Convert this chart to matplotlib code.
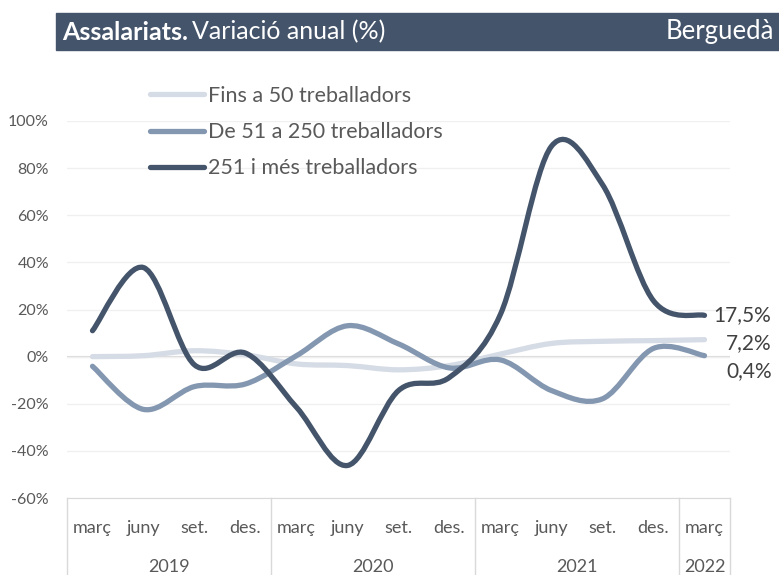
import numpy as np
import matplotlib.pyplot as plt
from matplotlib.path import Path
from matplotlib.patches import PathPatch, Rectangle
from matplotlib.lines import Line2D

plt.rcParams['font.family'] = ['Lato', 'DejaVu Sans']

# data (annual change, %)
quarters = ['març', 'juny', 'set.', 'des.'] * 3 + ['març']
years = ['2019', '2020', '2021', '2022']
year_bounds = [-0.5, 3.5, 7.5, 11.5, 12.5]
series_names = ['Fins a 50 treballadors', 'De 51 a 250 treballadors',
                '251 i més treballadors']
fins50 = [0.0, 0.4, 2.5, 0.8, -3.1, -3.8, -5.6, -3.8, 1.1, 5.6, 6.5, 6.8, 7.2]
de51 = [-4.1, -22.4, -12.7, -11.6, 0.4, 13.1, 5.4, -4.8, -1.4, -14.4, -17.9, 3.5, 0.4]
mes251 = [11.0, 37.8, -3.5, 1.5, -21.5, -46.2, -14.4, -8.8, 18.0, 89.3, 73.0, 23.7, 17.5]
end_labels = ['7,2%', '0,4%', '17,5%']

colors = ['#D6DCE5', '#8497B0', '#44546A']
label_dy = [-3, -15, 0]   # pixel nudges for end labels
grey = '#595959'


def smooth_path(xs, ys):
    # excel-style smoothed line: bezier through the points
    p = np.column_stack([xs, ys]).astype(float)
    n = len(p)
    verts = [p[0]]
    codes = [Path.MOVETO]
    for i in range(n - 1):
        p0 = p[i - 1] if i > 0 else p[i]
        p3 = p[i + 2] if i + 2 < n else p[i + 1]
        c1 = p[i] + (p[i + 1] - p0) / 6
        c2 = p[i + 1] - (p3 - p[i]) / 6
        verts += [c1, c2, p[i + 1]]
        codes += [Path.CURVE4] * 3
    return Path(verts, codes)


W, H = 779, 575
fig = plt.figure(figsize=(W / 100, H / 100), dpi=100)
ax_l, ax_r, ax_t, ax_b = 67, 730, 121, 498
ax = fig.add_axes([ax_l / W, 1 - ax_b / H, (ax_r - ax_l) / W, (ax_b - ax_t) / H])

x = np.arange(len(quarters))
for vals, col, name in zip([fins50, de51, mes251], colors, series_names):
    ax.add_patch(PathPatch(smooth_path(x, vals), fill=False, edgecolor=col,
                           lw=3.8, capstyle='round', joinstyle='round', zorder=3))

ax.set_xlim(-0.5, 12.5)
ax.set_ylim(-60, 100)
ax.set_yticks(range(-60, 101, 20))
ax.set_yticklabels([f'{v}%' for v in range(-60, 101, 20)], color=grey, fontsize=11.5)
ax.tick_params(axis='y', length=0, pad=13)
ax.set_xticks([])
ax.grid(axis='y', color='#F0F0F0', lw=1)
ax.axhline(0, color='#D9D9D9', lw=1.5, zorder=1)
for s in ['top', 'left', 'right']:
    ax.spines[s].set_visible(False)
ax.spines['bottom'].set_color('#D9D9D9')

# category axis, two levels
xt = ax.get_xaxis_transform()
bottom = -(H - ax_b) / (ax_b - ax_t)
for b in year_bounds:
    ax.plot([b, b], [0, bottom], transform=xt, color='#D9D9D9', lw=1, clip_on=False)
for i, q in enumerate(quarters):
    ax.text(i, -30 / (ax_b - ax_t), q, transform=xt, ha='center', va='center',
            color=grey, fontsize=13)
for k, yr in enumerate(years):
    mid = (year_bounds[k] + year_bounds[k + 1]) / 2
    ax.text(mid, -69 / (ax_b - ax_t), yr, transform=xt, ha='center', va='center',
            color=grey, fontsize=13)

# end labels
for vals, lab, dy in zip([fins50, de51, mes251], end_labels, label_dy):
    ax.annotate(lab, xy=(x[-1], vals[-1]), xytext=(67, dy), textcoords='offset pixels',
                ha='right', va='center', fontsize=15, color='#404040', annotation_clip=False)

# legend
handles = [Line2D([], [], color=c, lw=3.8, solid_capstyle='round') for c in colors]
fig.legend(handles, series_names, loc='upper left', bbox_to_anchor=(150 / W, 1 - 86 / H),
           frameon=False, fontsize=15.5, labelcolor=grey, handlelength=2.5,
           handletextpad=0.2, labelspacing=0.75, borderpad=0, borderaxespad=0)

# header bar
fig.add_artist(Rectangle((56 / W, 1 - 50 / H), (W - 56) / W, 37 / H,
                         transform=fig.transFigure, color='#44546A', zorder=0))
t1 = fig.text(62 / W, 1 - 32 / H, 'Assalariats.', color='white', fontsize=18,
              fontweight='bold', va='center')
fig.canvas.draw()
bb = t1.get_window_extent()
fig.text(bb.x1 / W + 4 / W, 1 - 32 / H, 'Variació anual (%)', color='white',
         fontsize=18, va='center')
fig.text(774 / W, 1 - 32 / H, 'Berguedà', color='white', fontsize=18.5,
         va='center', ha='right')

fig.savefig('out.png', dpi=100)
